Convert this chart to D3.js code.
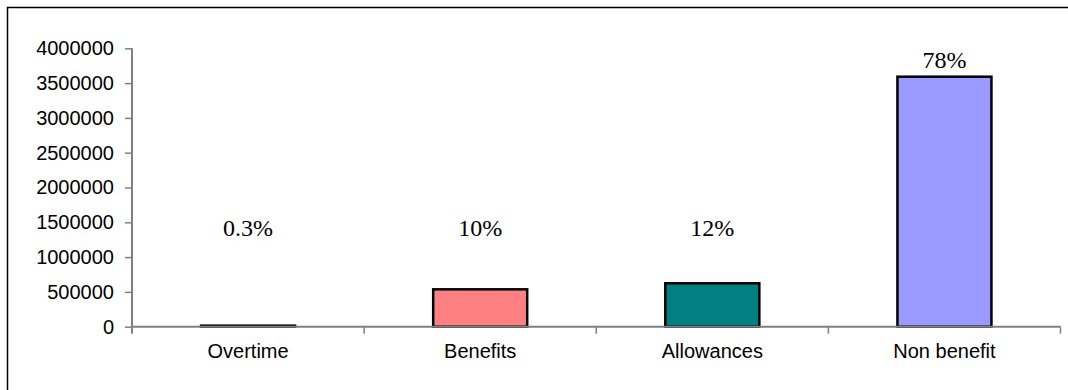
<!DOCTYPE html>
<html><head><meta charset="utf-8">
<script src="https://cdn.jsdelivr.net/npm/d3@7"></script>
<style>
html,body{margin:0;padding:0;background:#fff;}
svg{display:block;}
</style>
</head><body>
<svg id="chart" width="1068" height="390"></svg>
<script>
const categories = ["Overtime", "Benefits", "Allowances", "Non benefit"];
const values = [15000, 537000, 624000, 3592000];
const percentLabels = ["0.3%", "10%", "12%", "78%"];
const barColors = ["#993366", "#FF8080", "#008080", "#9999FF"];
const yTicks = [0, 500000, 1000000, 1500000, 2000000, 2500000, 3000000, 3500000, 4000000];

const svg = d3.select("#chart");
const plotLeft = 132, plotRight = 1060.5, plotTop = 48.3, plotBottom = 326.7;

// outer frame
svg.append("path")
  .attr("d", "M7.5,400 V7.5 H1080")
  .attr("fill", "none").attr("stroke", "#000").attr("stroke-width", 1.5);

const x = d3.scaleBand().domain(categories).range([plotLeft, plotRight])
  .paddingInner(0.595).paddingOuter(0.2975);
const xs = d3.scaleBand().domain(categories).range([plotLeft, plotRight]);
const y = d3.scaleLinear().domain([0, 4000000]).range([plotBottom, plotTop]);

// y axis
const yAxis = svg.append("g").attr("transform", `translate(${plotLeft},0)`)
  .call(d3.axisLeft(y).tickValues(yTicks).tickSize(7).tickPadding(11).tickFormat(d3.format("d")));
yAxis.select(".domain").attr("stroke", "#808080").attr("stroke-width", 2).attr("d", `M0,${plotBottom+7}V${plotTop}`);
yAxis.selectAll(".tick line").attr("stroke", "#808080").attr("stroke-width", 1.5);
yAxis.selectAll(".tick text").attr("font-family", "'Liberation Sans', Arial, sans-serif")
  .attr("font-size", 20).attr("fill", "#000");

// bars
svg.append("g").selectAll("rect").data(categories).join("rect")
  .attr("x", d => x(d))
  .attr("y", (d, i) => y(values[i]))
  .attr("width", x.bandwidth())
  .attr("height", (d, i) => plotBottom - y(values[i]))
  .attr("fill", (d, i) => barColors[i])
  .attr("stroke", "#000").attr("stroke-width", 2.5);

// x axis
const xAxisG = svg.append("g").attr("transform", `translate(0,${plotBottom})`);
xAxisG.append("line").attr("x1", plotLeft).attr("x2", plotRight).attr("y1", 0).attr("y2", 0)
  .attr("stroke", "#808080").attr("stroke-width", 2);
const boundaries = categories.map(c => xs(c) + xs.bandwidth());
xAxisG.selectAll("line.tk").data(boundaries).join("line").attr("class", "tk")
  .attr("x1", d => d).attr("x2", d => d).attr("y1", 0).attr("y2", 7)
  .attr("stroke", "#808080").attr("stroke-width", 1.5);
xAxisG.selectAll("text").data(categories).join("text")
  .attr("x", d => xs(d) + xs.bandwidth() / 2)
  .attr("y", 31)
  .attr("text-anchor", "middle")
  .attr("font-family", "'Liberation Sans', Arial, sans-serif")
  .attr("font-size", 20)
  .text(d => d);

// percent labels
svg.append("g").selectAll("text").data(categories).join("text")
  .attr("x", d => x(d) + x.bandwidth() / 2)
  .attr("y", (d, i) => values[i] > 1300000 ? y(values[i]) - 9 : y(1300000))
  .attr("text-anchor", "middle")
  .attr("font-family", "'Liberation Serif', 'Times New Roman', serif")
  .attr("font-size", 24)
  .text((d, i) => percentLabels[i]);
</script>
</body></html>
